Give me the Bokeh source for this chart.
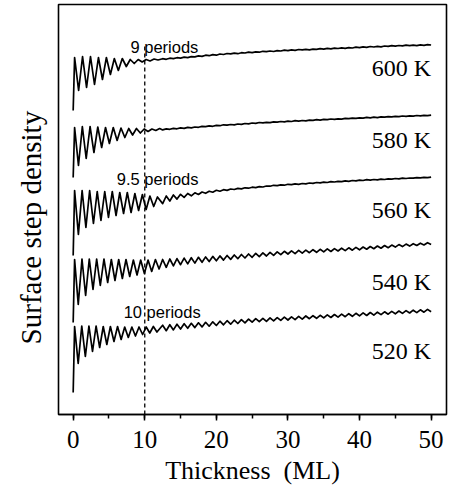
from bokeh.plotting import figure
from bokeh.models import Range1d, SingleIntervalTicker, FixedTicker, Label
from bokeh.embed import file_html
from bokeh.resources import INLINE

# ---------------- data (arbitrary units) ----------------
temps = ["600 K", "580 K", "560 K", "540 K", "520 K"]
label_y = [347, 275, 205, 133, 64]
period_text = ["9 periods", "9.5 periods", "10 periods"]
period_x = [8.0, 6.1, 7.05]
period_y = [368, 236, 103]
marker_x = 10
marker_top = 371

# early part (oscillations), extrema positions in ML
x_600 = [0.0, 0.20, 0.76, 1.31, 1.87, 2.42, 2.98, 3.53, 4.09, 4.64, 5.20, 5.75, 6.31,
         6.86, 7.42, 7.97, 8.53, 9.08, 9.64, 10.19, 10.74, 11.30, 11.85]
y_600 = [304, 357, 324, 358, 327, 358, 330, 357, 335, 357, 340, 356, 344,
         356, 348, 355, 351, 355, 352.5, 355, 353.5, 355.5, 354.5]

x_580 = [0.0, 0.20, 0.74, 1.28, 1.82, 2.36, 2.90, 3.44, 3.98, 4.52, 5.06, 5.60, 6.14,
         6.68, 7.22, 7.76, 8.30, 8.84, 9.38, 9.92, 10.46, 11.00, 11.54, 12.08]
y_580 = [237, 287, 249, 288, 256, 288, 262, 287.5, 267, 287, 271, 287, 274,
         286.5, 277, 286, 279.5, 286, 281.5, 285.5, 283, 285.5, 284, 286]

x_560 = [0.0, 0.20, 0.73, 1.25, 1.78, 2.30, 2.83, 3.36, 3.88, 4.41, 4.93, 5.46, 5.99,
         6.51, 7.04, 7.56, 8.09, 8.62, 9.14, 9.67, 10.19, 10.72, 11.25, 11.77]
y_560 = [159, 224, 180, 224, 187, 224, 191, 223, 194, 223, 197, 223, 199,
         222, 201, 222, 202, 221, 204, 220, 205, 218.5, 208, 217.5]

x_540 = [0.0, 0.20, 0.71, 1.23, 1.74, 2.25, 2.77, 3.28, 3.79, 4.30, 4.82, 5.33, 5.84,
         6.36, 6.87, 7.38, 7.90, 8.41, 8.92, 9.43, 9.95, 10.46, 10.97, 11.49, 12.00]
y_540 = [92, 155, 110, 155.5, 119, 155.5, 125, 155.5, 129, 155.5, 132, 155, 134,
         155, 136, 155, 138, 154.5, 139.5, 154.5, 141, 154.5, 143, 155, 145.5]

x_520 = [0.0, 0.20, 0.70, 1.20, 1.70, 2.20, 2.70, 3.20, 3.70, 4.20, 4.70, 5.20, 5.70,
         6.20, 6.70, 7.20, 7.70, 8.20, 8.70, 9.20, 9.70, 10.20, 10.70, 11.20, 11.70]
y_520 = [22, 88, 51, 88.5, 58, 88.5, 63, 88.5, 67, 88, 70, 88, 73,
         88, 75, 87.5, 77, 87.5, 78.5, 87.5, 80, 87.5, 81.5, 88, 82.5]

# later part, sampled every half monolayer
x_tail = [12.5, 13.0, 13.5, 14.0, 14.5, 15.0, 15.5, 16.0, 16.5, 17.0,
          17.5, 18.0, 18.5, 19.0, 19.5, 20.0, 20.5, 21.0, 21.5, 22.0,
          22.5, 23.0, 23.5, 24.0, 24.5, 25.0, 25.5, 26.0, 26.5, 27.0,
          27.5, 28.0, 28.5, 29.0, 29.5, 30.0, 30.5, 31.0, 31.5, 32.0,
          32.5, 33.0, 33.5, 34.0, 34.5, 35.0, 35.5, 36.0, 36.5, 37.0,
          37.5, 38.0, 38.5, 39.0, 39.5, 40.0, 40.5, 41.0, 41.5, 42.0,
          42.5, 43.0, 43.5, 44.0, 44.5, 45.0, 45.5, 46.0, 46.5, 47.0,
          47.5, 48.0, 48.5, 49.0, 49.5, 50.0]

t_600 = [355.8, 355.2, 356.3, 355.9, 356.8, 356.4, 357.4, 356.9, 357.9, 357.6,
         358.6, 358.1, 359.3, 358.8, 359.9, 359.3, 360.5, 360.0, 361.0, 360.6,
         361.3, 360.8, 361.8, 361.5, 362.4, 361.9, 362.7, 362.3, 363.2, 362.8,
         363.5, 363.0, 363.9, 363.5, 364.3, 363.9, 364.7, 364.2, 365.0, 364.6,
         365.2, 364.7, 365.4, 365.1, 365.8, 365.3, 366.1, 365.7, 366.4, 366.0,
         366.6, 366.1, 366.9, 366.5, 367.3, 366.9, 367.6, 367.2, 368.0, 367.5,
         368.2, 367.7, 368.5, 368.1, 368.8, 368.3, 369.0, 368.6, 369.3, 368.9,
         369.3, 368.9, 369.6, 369.2, 369.8, 369.5]

t_580 = [284.6, 285.6, 285.2, 286.1, 285.7, 286.6, 286.1, 287.1, 286.7, 287.5,
         287.2, 288.1, 287.8, 288.6, 288.2, 289.1, 288.8, 289.7, 289.3, 290.0,
         289.6, 290.5, 290.1, 291.0, 290.7, 291.5, 291.1, 292.0, 291.6, 292.2,
         291.8, 292.6, 292.3, 293.0, 292.7, 293.4, 293.0, 293.8, 293.4, 294.0,
         293.7, 294.4, 294.1, 294.8, 294.4, 295.1, 294.8, 295.5, 295.1, 295.7,
         295.4, 296.1, 295.8, 296.4, 296.1, 296.7, 296.4, 297.1, 296.7, 297.3,
         296.9, 297.6, 297.3, 297.9, 297.6, 298.2, 297.9, 298.5, 298.2, 298.7,
         298.4, 299.0, 298.7, 299.2, 298.9, 299.3]

t_560 = [210.9, 218.5, 213.5, 219.5, 215.4, 220.2, 217.1, 221.0, 218.7, 221.7,
         220.0, 222.5, 221.2, 223.3, 222.3, 224.2, 223.3, 224.8, 224.1, 225.5,
         225.0, 226.1, 225.6, 226.7, 226.3, 227.3, 226.9, 227.9, 227.5, 228.5,
         228.3, 229.2, 228.8, 229.6, 229.3, 230.2, 229.8, 230.6, 230.2, 231.0,
         230.7, 231.5, 231.2, 232.0, 231.6, 232.4, 232.0, 232.8, 232.5, 233.1,
         232.8, 233.6, 233.2, 234.0, 233.6, 234.4, 234.0, 234.8, 234.4, 235.0,
         234.6, 235.3, 235.0, 235.6, 235.3, 236.0, 235.6, 236.3, 236.0, 236.5,
         236.3, 236.9, 236.6, 237.2, 236.9, 237.4]

t_540 = [155.0, 147.2, 155.5, 148.6, 155.9, 149.8, 156.4, 150.6, 156.8, 151.4,
         157.2, 152.2, 157.6, 152.9, 158.1, 153.7, 158.6, 154.4, 159.0, 155.1,
         159.5, 155.8, 160.0, 156.5, 160.5, 157.2, 161.1, 157.9, 161.6, 158.5,
         162.1, 159.2, 162.7, 159.9, 163.2, 160.5, 163.7, 160.9, 164.1, 161.4,
         164.4, 161.8, 164.8, 162.2, 165.2, 162.6, 165.6, 163.0, 165.9, 163.5,
         166.3, 163.9, 166.7, 164.3, 167.1, 164.7, 167.5, 165.3, 168.0, 165.8,
         168.5, 166.3, 169.0, 166.8, 169.4, 167.4, 169.9, 167.9, 170.4, 168.4,
         170.8, 169.0, 171.3, 169.5, 171.8, 170.0]

t_520 = [89.3, 83.8, 89.8, 84.6, 90.3, 85.5, 90.8, 86.2, 91.2, 86.9,
         91.7, 87.6, 92.2, 88.3, 92.7, 89.0, 93.3, 89.7, 93.8, 90.3,
         94.3, 91.0, 94.9, 91.7, 95.4, 92.3, 95.9, 92.8, 96.2, 93.2,
         96.6, 93.7, 96.9, 94.1, 97.3, 94.5, 97.7, 94.9, 98.1, 95.3,
         98.5, 95.8, 98.8, 96.2, 99.2, 96.6, 99.6, 97.0, 100.0, 97.4,
         100.4, 97.8, 100.8, 98.2, 101.2, 98.6, 101.6, 99.0, 102.0, 99.4,
         102.3, 99.9, 102.7, 100.3, 103.1, 100.7, 103.5, 101.1, 103.9, 101.5,
         104.3, 101.9, 104.7, 102.3, 105.1, 102.7]

y_title = "Surface step density"

# ---------------- figure ----------------
SERIF = "Liberation Serif"
SANS = "Liberation Sans"

p = figure(width=451, height=493, output_backend="svg", toolbar_location=None,
           x_range=Range1d(-2.05, 52.15), y_range=Range1d(0, 410),
           min_border_left=58, min_border_right=5, min_border_top=4, min_border_bottom=79)
p.background_fill_color = "white"
p.border_fill_color = "white"
p.outline_line_color = "black"
p.outline_line_width = 1.6
p.xgrid.visible = False
p.ygrid.visible = False

# x axis
p.xaxis.ticker = SingleIntervalTicker(interval=10, num_minor_ticks=2)
p.xaxis.axis_label = "Thickness\u00a0 (ML)"
p.xaxis.axis_label_text_font = SERIF
p.xaxis.axis_label_text_font_style = "normal"
p.xaxis.axis_label_text_font_size = "26px"
p.xaxis.axis_label_text_color = "black"
p.xaxis.axis_label_standoff = 5
p.xaxis.major_label_text_font = SERIF
p.xaxis.major_label_text_font_size = "25px"
p.xaxis.major_label_text_color = "black"
p.xaxis.major_label_standoff = 10
p.xaxis.axis_line_width = 1.6
p.xaxis.major_tick_out = 6
p.xaxis.major_tick_in = 0
p.xaxis.minor_tick_out = 4
p.xaxis.minor_tick_in = 0
p.xaxis.major_tick_line_width = 1.5
p.xaxis.minor_tick_line_width = 1.5

# y axis: title only (trailing spaces shift it towards the bottom like the original)
p.yaxis.ticker = FixedTicker(ticks=[])
p.yaxis.axis_label = y_title + "\u00a0" * 5
p.yaxis.axis_label_text_font = SERIF
p.yaxis.axis_label_text_font_style = "normal"
p.yaxis.axis_label_text_font_size = "29px"
p.yaxis.axis_label_text_color = "black"
p.yaxis.axis_label_standoff = 12
p.yaxis.axis_line_color = None
p.yaxis.major_tick_line_color = None
p.yaxis.minor_tick_line_color = None

curves = [(x_600, y_600, t_600), (x_580, y_580, t_580), (x_560, y_560, t_560),
          (x_540, y_540, t_540), (x_520, y_520, t_520)]
for xe, ye, yt in curves:
    p.line(xe + x_tail, ye + yt, line_color="black", line_width=1.7, line_join="round")

# dashed marker at 10 ML
p.line([marker_x, marker_x], [0, marker_top], line_color="black", line_width=1.3,
       line_dash="4 3")

for t, yy in zip(temps, label_y):
    p.add_layout(Label(x=50, y=yy, text=t, text_align="right", text_baseline="middle",
                       text_font=SERIF, text_font_size="24px", text_color="black"))

for t, xx, yy in zip(period_text, period_x, period_y):
    p.add_layout(Label(x=xx, y=yy, text=t, text_align="left", text_baseline="middle",
                       text_font=SANS, text_font_size="16.5px", text_color="black"))

open("out.html", "w").write(file_html(p, INLINE))
